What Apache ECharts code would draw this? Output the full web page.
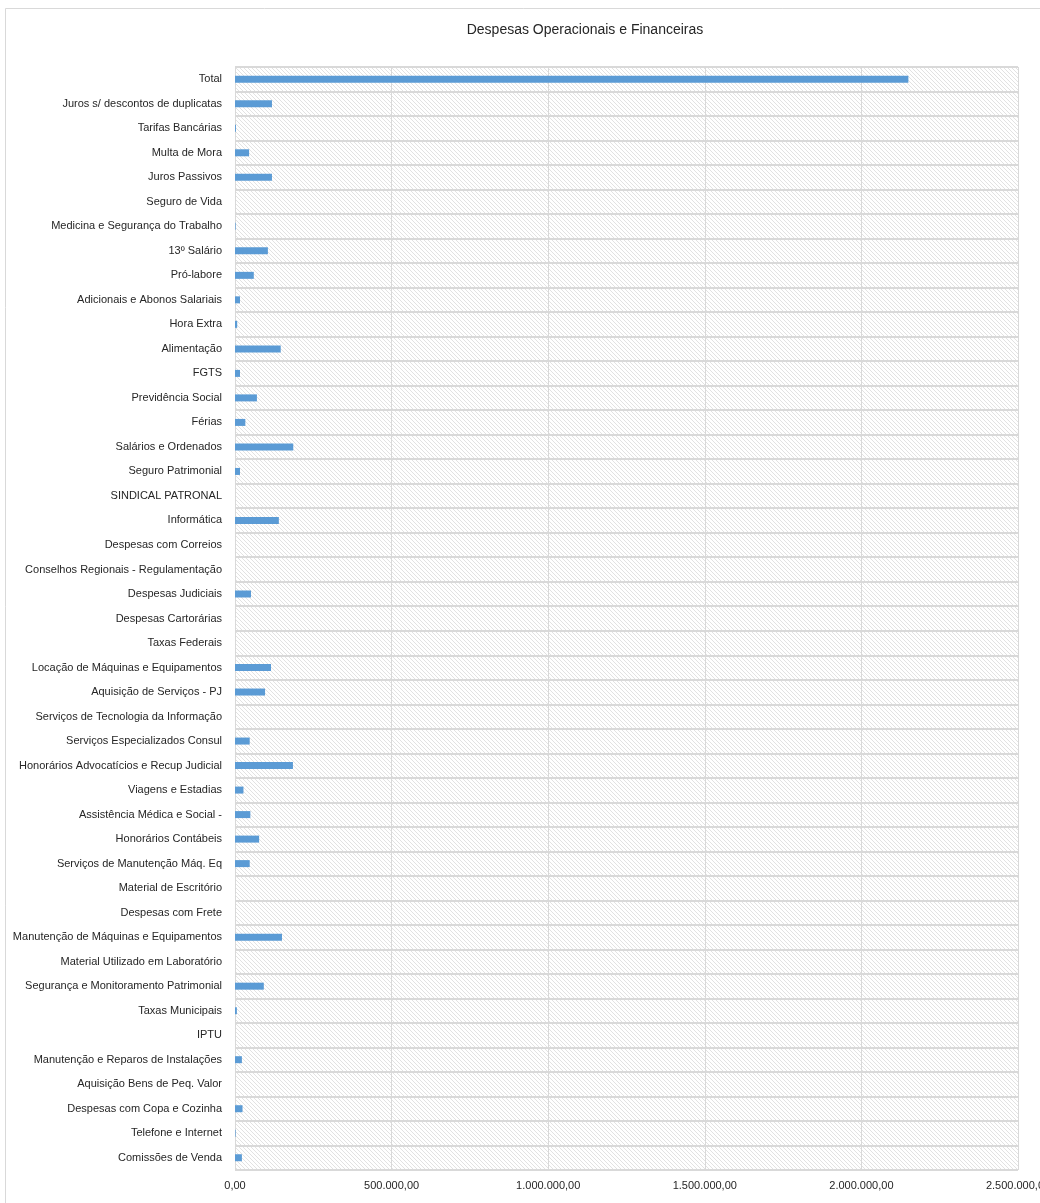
<!DOCTYPE html>
<html>
<head>
<meta charset="utf-8">
<script src="https://cdn.jsdelivr.net/npm/echarts@6/dist/echarts.min.js"></script>
<style>
  html, body { margin: 0; padding: 0; background: #fff; }
  #main { width: 1040px; height: 1203px; }
</style>
</head>
<body>
<div id="main"></div>
<script>
// categorias de cima para baixo
const categories = [
  'Total', 'Juros s/ descontos de duplicatas', 'Tarifas Bancárias', 'Multa de Mora',
  'Juros Passivos', 'Seguro de Vida', 'Medicina e Segurança do Trabalho', '13º Salário',
  'Pró-labore', 'Adicionais e Abonos Salariais', 'Hora Extra', 'Alimentação', 'FGTS',
  'Previdência Social', 'Férias', 'Salários e Ordenados', 'Seguro Patrimonial',
  'SINDICAL PATRONAL', 'Informática', 'Despesas com Correios',
  'Conselhos Regionais - Regulamentação', 'Despesas Judiciais', 'Despesas Cartorárias',
  'Taxas Federais', 'Locação de Máquinas e Equipamentos', 'Aquisição de Serviços - PJ',
  'Serviços de Tecnologia da Informação', 'Serviços Especializados Consul',
  'Honorários Advocatícios e Recup Judicial', 'Viagens e Estadias',
  'Assistência Médica e Social -', 'Honorários Contábeis', 'Serviços de Manutenção Máq. Eq',
  'Material de Escritório', 'Despesas com Frete', 'Manutenção de Máquinas e Equipamentos',
  'Material Utilizado em Laboratório', 'Segurança e Monitoramento Patrimonial',
  'Taxas Municipais', 'IPTU', 'Manutenção e Reparos de Instalações',
  'Aquisição Bens de Peq. Valor', 'Despesas com Copa e Cozinha', 'Telefone e Internet',
  'Comissões de Venda'
]
const values = [
  2150000, 118000, 3000, 45000,
  118000, 0, 2000, 105000,
  60000, 16000, 7000, 146000, 16000,
  70000, 33000, 186000, 16000,
  0, 140000, 0,
  0, 51000, 0,
  0, 115000, 96000,
  0, 47000,
  185000, 27000,
  49000, 77000, 47000,
  0, 0, 150000,
  0, 92000,
  6000, 0, 22000,
  0, 24000, 2000,
  22000
]
const xTicks = [0, 500000, 1000000, 1500000, 2000000, 2500000]

// formato brasileiro 1.000.000,00
const formatBR = (v) => {
  const parts = Math.round(v).toString().replace(/\B(?=(\d{3})+(?!\d))/g, '.')
  return parts + ',00'
}

// padrão hachurado do fundo da área de plotagem
const hatch = document.createElement('canvas')
hatch.width = 4
hatch.height = 4
const ctx = hatch.getContext('2d')
ctx.fillStyle = '#ffffff'
ctx.fillRect(0, 0, 4, 4)
ctx.strokeStyle = '#e2e2e2'
ctx.lineWidth = 1
ctx.beginPath()
ctx.moveTo(-1, -1)
ctx.lineTo(5, 5)
ctx.stroke()

const chart = echarts.init(document.getElementById('main'))
chart.setOption({
  animation: false,
  backgroundColor: '#ffffff',
  title: {
    text: 'Despesas Operacionais e Financeiras',
    left: 580,
    top: 18,
    textAlign: 'center',
    textStyle: { fontFamily: 'Liberation Sans', fontSize: 14, fontWeight: 'normal', color: '#262626' },
  },
  graphic: [{
    type: 'rect',
    shape: { x: 5.5, y: 8.5, width: 1200, height: 1300 },
    style: { fill: null, stroke: '#d9d9d9', lineWidth: 1 },
    silent: true,
  }],
  grid: {
    left: 235,
    right: 22,
    top: 67,
    bottom: 33,
    outerBoundsMode: 'none',
    containLabel: false,
    show: true,
    backgroundColor: { image: hatch, repeat: 'repeat' },
    borderWidth: 0,
  },
  xAxis: {
    type: 'value',
    min: 0,
    max: xTicks[xTicks.length - 1],
    interval: xTicks[1] - xTicks[0],
    axisLine: { show: false },
    axisTick: { show: false },
    splitLine: { show: true, lineStyle: { color: '#d9d9d9', width: 1 } },
    axisLabel: {
      formatter: formatBR,
      margin: 10,
      fontFamily: 'Liberation Sans',
      fontSize: 11,
      color: '#262626',
    },
  },
  yAxis: {
    type: 'category',
    inverse: true,
    data: categories,
    axisLine: { show: false },
    axisTick: { show: false },
    splitLine: { show: true, lineStyle: { color: '#d9d9d9', width: 2 } },
    axisLabel: {
      margin: 13,
      interval: 0,
      fontFamily: 'Liberation Sans',
      fontSize: 11,
      color: '#262626',
    },
  },
  series: [{
    type: 'bar',
    data: values,
    barWidth: 7,
    itemStyle: { color: '#5b9bd5' },
  }],
})
</script>
</body>
</html>
